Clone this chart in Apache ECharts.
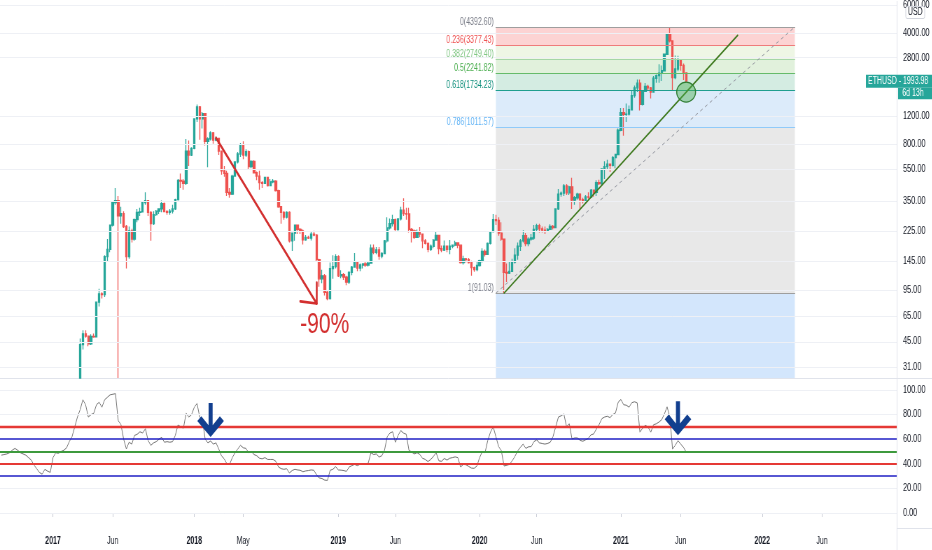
<!DOCTYPE html>
<html><head><meta charset="utf-8">
<script src="https://cdn.jsdelivr.net/npm/echarts@6/dist/echarts.min.js"></script>
<style>
html,body{margin:0;padding:0;width:932px;height:550px;overflow:hidden;background:#fff;}
#wrap{width:932px;height:550px;overflow:hidden;position:relative;}
#c{width:1331px;height:550px;transform:scaleX(0.7);transform-origin:0 0;position:absolute;left:0;top:0;}
</style></head><body><div id="wrap"><div id="c"></div></div>
<script>
// ---- weekly ETHUSD candles [open, high, low, close], first week = 2016-08-22 ----
const eth2016 = [[11.0,11.4,10.6,11.2],[11.2,12.2,11.0,11.9],[11.9,12.4,11.5,12.0],[12.0,12.8,11.8,12.7],[12.7,13.4,12.4,13.0],[13.0,13.3,12.8,13.2],[13.2,13.2,11.8,12.0],[12.0,12.2,11.7,11.9],[11.9,12.1,11.6,11.8],[11.8,11.9,10.9,11.1],[11.1,11.3,10.4,10.8],[10.8,11.0,10.2,10.3],[10.3,10.5,9.5,9.8],[9.8,10.0,8.9,9.0],[9.0,9.1,7.6,8.4],[8.4,8.7,7.6,7.9],[7.9,8.3,7.5,7.7],[7.7,7.9,7.0,7.2],[7.2,8.5,7.0,8.2]];
const eth2017 = [[8.2,11.2,8.0,10.2],[10.2,10.6,9.4,9.8],[9.8,10.9,9.7,10.6],[10.6,10.8,10.3,10.5],[10.5,11.5,10.4,11.3],[11.3,11.6,10.6,11.4],[11.4,13.0,11.3,12.8],[12.8,14.0,12.4,13.6],[13.6,19.5,13.4,19.2],[19.2,24.0,17.8,23.0],[23.0,47.0,22.5,43.0],[43.0,53.0,40.0,50.3],[50.3,53.0,47.5,48.6],[48.6,48.6,42.0,43.5],[43.5,50.0,42.8,48.5],[48.5,50.5,47.5,48.2],[48.2,80.0,48.0,79.8],[79.8,97.0,75.0,90.0],[90.0,92.0,84.0,89.0],[89.0,158.0,86.0,155.0],[155.0,200.0,145.0,172.0],[172.0,247.0,165.0,245.0],[245.0,342.0,240.0,340.0],[340.0,420.0,330.0,350.0],[350.0,375.0,0.1,280.0],[280.0,320.0,250.0,290.0],[290.0,300.0,235.0,240.0],[240.0,245.0,130.0,155.0],[155.0,240.0,150.0,225.0],[225.0,232.0,190.0,200.0],[200.0,270.0,195.0,265.0],[265.0,310.0,255.0,295.0],[295.0,315.0,280.0,297.0],[297.0,345.0,295.0,340.0],[340.0,395.0,330.0,350.0],[350.0,352.0,280.0,295.0],[295.0,300.0,195.0,250.0],[250.0,300.0,245.0,285.0],[285.0,305.0,280.0,300.0],[300.0,312.0,288.0,310.0],[310.0,350.0,295.0,335.0],[335.0,340.0,295.0,298.0],[298.0,305.0,285.0,295.0],[295.0,310.0,285.0,300.0],[300.0,330.0,290.0,310.0],[310.0,360.0,305.0,355.0],[355.0,480.0,350.0,470.0],[470.0,520.0,420.0,465.0],[465.0,480.0,410.0,450.0],[450.0,860.0,440.0,720.0],[720.0,840.0,580.0,680.0],[680.0,760.0,670.0,750.0]];
const eth2018 = [[750,1160,740,1150],[1150,1420,1100,1370],[1370,1390,850,1150],[1150,1270,1000,1240],[1240,1250,780,830],[830,880,570,860],[860,960,840,940],[940,950,800,845],[845,895,830,865],[865,870,680,720],[720,725,510,540],[540,580,495,520],[520,540,375,395],[395,420,365,385],[385,510,380,500],[500,620,495,615],[615,710,600,690],[690,810,660,790],[790,830,640,680],[680,740,660,715],[715,725,550,575],[575,630,560,620],[620,630,520,525],[525,535,470,500],[500,540,410,455],[455,465,420,450],[450,495,445,490],[490,495,430,435],[435,480,435,460],[460,480,450,465],[465,470,400,405],[405,410,315,320],[320,320,250,295],[295,300,265,275],[275,300,270,295],[295,300,190,195],[195,220,168,218],[218,245,195,245],[245,245,215,230],[230,235,215,225],[225,230,185,198],[198,212,195,205],[205,210,200,203],[203,222,196,215],[215,226,208,212],[212,215,145,148],[148,150,100,112],[112,128,105,117],[117,120,88,92],[92,94,82,84],[84,142,83,130],[130,158,112,134],[134,160,130,155]];
const eth2019 = [[155,158,115,117],[117,127,113,119],[119,122,110,115],[115,117,102,107],[107,125,104,123],[123,135,118,133],[133,163,132,143],[143,145,125,131],[131,140,125,137],[137,140,130,139],[139,145,133,137],[137,145,134,141],[141,185,140,175],[175,185,160,165],[165,178,160,171],[171,178,148,156],[156,165,151,162],[162,197,160,195],[195,275,190,235],[235,270,230,250],[250,285,240,265],[265,270,225,230],[230,270,225,268],[268,320,262,305],[305,362,280,290],[290,315,265,288],[288,315,220,230],[230,235,190,225],[225,230,200,205],[205,230,205,222],[222,238,205,215],[215,216,175,195],[195,200,185,188],[188,190,165,172],[172,185,168,180],[180,200,175,197],[197,224,195,211],[211,212,160,174],[174,182,165,170],[170,196,168,180],[180,182,165,172],[172,197,160,180],[180,185,175,183],[183,195,180,189],[189,190,175,183],[183,185,140,142],[142,157,138,150],[150,152,142,148],[148,152,140,142],[142,146,117,132],[132,134,124,128],[128,145,125,136]];
const eth2020 = [[136,148,134,146],[146,175,142,167],[167,172,155,160],[160,190,159,188],[188,225,185,223],[223,288,220,265],[265,285,245,262],[262,275,210,218],[218,255,195,200],[200,201,91.03,123],[123,140,107,122],[122,145,120,125],[125,150,124,143],[143,175,140,158],[158,190,148,180],[180,200,168,195],[195,227,190,210],[210,218,180,187],[187,205,180,200],[200,215,195,203],[203,245,198,230],[230,250,225,243],[243,250,220,232],[232,240,220,228],[228,240,215,225],[225,235,222,230],[230,248,228,240],[240,245,230,236],[236,310,235,310],[310,415,305,385],[385,400,370,390],[390,445,375,433],[433,445,380,392],[392,435,380,428],[428,488,310,353],[353,375,330,365],[365,393,355,385],[385,390,310,355],[355,365,335,346],[346,380,335,370],[370,395,360,368],[368,415,365,408],[408,410,370,395],[395,470,375,455],[455,475,440,448],[448,560,440,555],[555,620,480,575],[575,635,550,595],[595,600,530,585],[585,670,575,655],[655,690,560,685],[685,1000,680,975]];
const eth2021 = [[975,1350,960,1260],[1260,1350,900,1230],[1230,1440,1100,1235],[1235,1400,1210,1315],[1315,1750,1315,1615],[1615,1870,1565,1810],[1810,2040,1700,1935],[1935,2040,1300,1420],[1420,1730,1400,1720],[1720,1940,1700,1850],[1850,1890,1730,1810],[1810,1830,1550,1700],[1700,2150,1690,2080],[2080,2200,1950,2160],[2160,2550,1950,2240],[2240,2500,2000,2320],[2320,2950,2300,2950],[2950,3970,2930,3920],[3920,4392.6,3500,3580],[3580,3600,1734,2100],[2100,2900,2050,2380],[2380,2890,2300,2710],[2710,2750,2320,2510],[2510,2580,2030,2250],[2250,2260,1940,1993.98]];

// ---- weekly RSI values ----
const rsi2016 = [47,47.5,48,49,51,52.5,51,49,48,47,45,43,39,36,33,31.5,35.5,34,33];
const rsi2017 = [45,49,48.5,50,51,53,58,62,70,78,84,92,88,78,80,81,88,90,86,92,94,96,96.5,97,75,72,60,52,57.5,56,63,64,66,65,68.5,59,55,57,58,60,61.5,57.5,58,57.5,58,63,71.5,70,69,81,78,80];
const rsi2018 = [86,89,78,76,60,57,58.5,56,57,52,46.5,44,40,39.6,45,49,52,55,53,52.5,49,50,47.5,46.5,44.5,44,45,43.5,43.5,43.5,42,37.4,36,35.5,36,32.5,34.5,35.5,35,34.7,33.5,34.2,34.5,35,34.7,31,28.5,28,26.7,26.5,34.7,35.5,37.7];
const rsi2019 = [35,34.8,34.5,33.8,37.4,38.5,39.5,38.5,39.6,39.8,39.6,40.5,49,47.5,48,45.5,46.5,51,62,65,66,57.5,63,67,64.9,64,51,49.5,48,49,47.5,44.5,43.5,41.8,43.5,46,49,42.4,42,44.3,43,44.5,45,45.6,45,37.4,39.5,39.2,37.8,36.5,36.3,38.2];
const rsi2020 = [45,50,49,59,65.7,70,62,54,50.6,38.2,38.8,39.5,42.4,46,50.5,53.3,56,52.5,53.8,54,58,59.4,57,56.5,56,56.5,57.5,62,70,78,79,80.5,70,72.5,60.2,61,61,59,58.3,59.5,60.7,63.5,64.3,68.4,72,76.7,78,78.6,77.5,80,81.3,90];
const rsi2021 = [92.3,88,87.6,86,89.6,90.4,89.5,65.7,69,71.2,69.8,65.7,71.7,72.5,73.9,75.8,80.5,86.3,78,52,55,58.8,56,53.5,49.5];

// ---- axis ticks / labels ----
const priceTicks = [6000,4000,2800,1200,800,550,350,225,145,95,65,45,31];
const rsiTicks = [0,20,40,60,80,100];
const rsiLevels = [70,60,50,40,30];
const timeLabels = [['2017-01-02','2017',1],['2017-06-05','Jun',0],['2018-01-01','2018',1],['2018-05-07','May',0],['2019-01-07','2019',1],['2019-06-03','Jun',0],['2020-01-06','2020',1],['2020-06-01','Jun',0],['2021-01-04','2021',1],['2021-06-07','Jun',0],['2022-01-03','2022',1],['2022-06-06','Jun',0]];

// ---- fibonacci retracement ----
const fibRatios = ['0','0.236','0.382','0.5','0.618','0.786','1'];
const fibPrices = [4392.60,3377.43,2749.40,2241.82,1734.23,1011.57,91.03];
const lastPrice = 1993.98;

// ---- build ----
const FONT = '"Liberation Sans", Arial, sans-serif';
const L = v => Math.log10(v);
const Y_MIN = 1.4221, Y_MAX = 3.8039;          // log10 price range of pane
const R_MIN = -12.2, R_MAX = 108.9;

const categories = [];
{ let t = Date.UTC(2016,7,22); for (let i=0;i<330;i++){ categories.push(new Date(t).toISOString().slice(0,10)); t += 7*864e5; } }
const labelAt = {};
timeLabels.forEach(([d,txt,b]) => { labelAt[categories.indexOf(d)] = {txt, b}; });

const ohlc = [].concat(eth2016, eth2017, eth2018, eth2019, eth2020, eth2021);
// candles partly below the pane are cut at the pane's lower edge
const cut = v => Math.max(L(v), Y_MIN);
const candleData = ohlc.map(r => L(r[1]) < Y_MIN
  ? [L(r[0]), L(r[3]), L(r[2]), L(r[1])]
  : [cut(r[0]), cut(r[3]), cut(r[2]), cut(r[1])]);
const rsiData = [].concat(rsi2016, rsi2017, rsi2018, rsi2019, rsi2020, rsi2021);

const FIB_A = 182, FIB_B = 292;
const fibLine = ['#9e9e9e','#ef7b7b','#a5d6a7','#66bb6a','#1f9e8e','#90caf9','#9e9e9e'];
const fibText = ['#787b86','#ef4f4f','#81c784','#4caf50','#0f8f7c','#64b5f6','#787b86'];
const fibFill = ['#fcd3d3','#eef6e5','#e1f1dc','#d4ece2','#dcebfa','#e8e8e8','#d3e6fc'];

const bands = [];
for (let i=0;i<fibPrices.length;i++){
  const top = L(fibPrices[i]);
  const bot = i < fibPrices.length-1 ? L(fibPrices[i+1]) : Y_MIN;
  bands.push([{coord:[FIB_A, top], itemStyle:{color:fibFill[i]}}, {coord:[FIB_B, bot]}]);
}
const solid = (color, width) => ({color, width, type:'solid', cap:'round'});
const fibLines = fibPrices.map((p,i) => [{coord:[FIB_A, L(p)], lineStyle:solid(fibLine[i], 1.2)}, {coord:[FIB_B, L(p)]}]);
const fibLabels = fibPrices.map((p,i) => ({coord:[FIB_A, L(p)], symbolSize:0,
  label:{show:true, position:'left', distance:3, offset:[0,-5], formatter: fibRatios[i]+'('+p.toFixed(2)+')', color: fibText[i], fontSize:10, fontFamily:FONT}}));

const arrowTip = [116, L(78.3)];
const overlayLines = [
  [{coord:[FIB_A, L(fibPrices[6])], lineStyle:{color:'#9598a1', width:1, type:[4,4]}}, {coord:[FIB_B, L(fibPrices[0])]}],
  [{coord:[185, L(91.03)], lineStyle:solid('#3f7a1f', 1.6)}, {coord:[271, L(3890)]}],
  [{coord:[79, L(872)], lineStyle:solid('#d32f2f', 2.6)}, {coord:arrowTip}],
  [{coord:arrowTip, lineStyle:solid('#d32f2f', 2.6)}, {coord:[110, L(80.7)]}],
  [{coord:arrowTip, lineStyle:solid('#d32f2f', 2.6)}, {coord:[116, L(106)]}]
];

const downArrow = 'path://M43,0 L57,0 L57,64 L82,38 L96,52 L50,98 L4,52 L18,38 L43,64 Z';

const chart = echarts.init(document.getElementById('c'));
const axisGray = '#e0e3eb';
const gridLine = {color:'#eef0f5', width:1, type:'solid'};
const option = {
  animation:false,
  backgroundColor:'#ffffff',
  textStyle:{fontFamily:FONT},
  grid:[{left:0, right:50, top:0, height:378}, {left:0, right:50, top:379, height:149}],
  xAxis:[
    {type:'category', gridIndex:0, data:categories, boundaryGap:true,
     axisLine:{show:true, lineStyle:{color:axisGray}}, axisTick:{show:false}, axisLabel:{show:false}, splitLine:{show:false}},
    {type:'category', gridIndex:1, data:categories, boundaryGap:true,
     axisLine:{show:true, lineStyle:{color:axisGray}},
     axisTick:{show:true, alignWithLabel:true, length:4, lineStyle:{color:'#c9ccd6'}, interval:(i)=> labelAt[i]!==undefined},
     axisLabel:{show:true, margin:8, fontSize:10, color:'#131722', fontFamily:FONT,
       interval:(i)=> labelAt[i]!==undefined,
       formatter:(v,i)=>{ const t = labelAt[i]; if(!t) return ''; return t.b ? '{b|'+t.txt+'}' : t.txt; },
       rich:{b:{fontWeight:'bold', fontSize:10, color:'#131722', fontFamily:FONT}}},
     splitLine:{show:false}}
  ],
  yAxis:[
    {type:'value', gridIndex:0, position:'right', min:Y_MIN, max:Y_MAX,
     axisLine:{show:true, lineStyle:{color:axisGray}}, axisTick:{show:false}, splitLine:{show:false},
     axisLabel:{show:true, margin:9, fontSize:10.5, color:'#131722', fontFamily:FONT, customValues: priceTicks.map(L),
       formatter:(v)=>{ const t = priceTicks.find(p=>Math.abs(L(p)-v)<1e-6); return t!==undefined ? t.toFixed(2) : ''; }}},
    {type:'value', gridIndex:1, position:'right', min:R_MIN, max:R_MAX,
     axisLine:{show:true, lineStyle:{color:axisGray}}, axisTick:{show:false}, splitLine:{show:false},
     axisLabel:{show:true, margin:9, fontSize:10.5, color:'#131722', fontFamily:FONT, customValues: rsiTicks,
       formatter:(v)=> Number(v).toFixed(2)}}
  ],
  series:[
    {name:'bg', type:'line', xAxisIndex:0, yAxisIndex:0, data:[], silent:true, z:0,
     markLine:{silent:true, symbol:['none','none'], label:{show:false}, animation:false,
       lineStyle:gridLine, data: priceTicks.map(p=>({yAxis:L(p), lineStyle:gridLine}))},
     markArea:{silent:true, animation:false, data: bands}},
    {name:'ETHUSD', type:'candlestick', xAxisIndex:0, yAxisIndex:0, data:candleData, clip:true, barWidth:2.8,
     itemStyle:{color:'#26a69a', color0:'#ef5350', borderColor:'#26a69a', borderColor0:'#ef5350', borderWidth:1.3}},
    {name:'draw', type:'line', xAxisIndex:0, yAxisIndex:0, data:[], silent:true,
     markLine:{silent:true, symbol:['none','none'], label:{show:false}, animation:false,
       lineStyle:{type:'solid'}, data: fibLines.concat(overlayLines)},
     markPoint:{silent:true, animation:false, data: fibLabels.concat([
       {coord:[252, L(1700)], symbol:'circle', symbolSize:[27,20],
        itemStyle:{color:'rgba(76,175,80,0.45)', borderColor:'#2e7d32', borderWidth:1.3}, label:{show:false}},
       {coord:[119, L(57.8)], symbolSize:0, label:{show:true, position:'inside', formatter:'-90%', fontSize:30, color:'#d32f2f', fontFamily:FONT}}
     ])}},
    {name:'RSI', type:'line', xAxisIndex:1, yAxisIndex:1, data:rsiData, symbol:'none', silent:true,
     lineStyle:{color:'#757575', width:1},
     markLine:{silent:true, symbol:['none','none'], label:{show:false}, animation:false,
       lineStyle:{type:'solid'},
       data:[
         {yAxis:100, lineStyle:gridLine},
         {yAxis:80, lineStyle:gridLine},
         {yAxis:20, lineStyle:gridLine},
         {yAxis:0, lineStyle:gridLine},
         {yAxis:rsiLevels[0], lineStyle:{color:'#e53935', width:2.4, type:'solid'}},
         {yAxis:rsiLevels[1], lineStyle:{color:'#1f1fc4', width:1.5, type:'solid'}},
         {yAxis:rsiLevels[2], lineStyle:{color:'#3d9a3d', width:1.8, type:'solid'}},
         {yAxis:rsiLevels[3], lineStyle:{color:'#e53935', width:1.8, type:'solid'}},
         {yAxis:rsiLevels[4], lineStyle:{color:'#1f1fc4', width:1.5, type:'solid'}}
       ]},
     markPoint:{silent:true, animation:false, symbol:downArrow, symbolSize:[38,34], itemStyle:{color:'#123f8f'}, label:{show:false},
       data:[{coord:[77, 75.6]}, {coord:[249, 77]}]}}
  ]
};
chart.setOption(option);

const ty = chart.convertToPixel({yAxisIndex:0}, L(lastPrice));
const axX = 1281.4;
chart.setOption({graphic:[
  {type:'line', z:50, shape:{x1:axX, y1:528, x2:axX, y2:550}, style:{stroke:axisGray, lineWidth:1}},
  {type:'line', z:50, shape:{x1:axX, y1:378.5, x2:1331, y2:378.5}, style:{stroke:axisGray, lineWidth:1}},
  {type:'line', z:50, shape:{x1:axX, y1:528.5, x2:1331, y2:528.5}, style:{stroke:axisGray, lineWidth:1}},
  {type:'rect', z:60, shape:{x:1294, y:6.5, width:27, height:12, r:2}, style:{fill:'#ffffff', stroke:'#d1d4dc', lineWidth:1}},
  {type:'text', z:61, x:1307.5, y:12.5, style:{text:'USD', fill:'#131722', fontSize:10, fontFamily:FONT, align:'center', verticalAlign:'middle'}},
  {type:'rect', z:60, shape:{x:1237, y:ty-6.5, width:94, height:13}, style:{fill:'#26a69a'}},
  {type:'text', z:61, x:1240, y:ty, style:{text:'ETHUSD - 1993.98', fill:'#ffffff', fontSize:10, fontFamily:FONT, align:'left', verticalAlign:'middle'}},
  {type:'rect', z:60, shape:{x:1283, y:ty+6.5, width:48, height:11.5}, style:{fill:'#26a69a'}},
  {type:'text', z:61, x:1289, y:ty+12.2, style:{text:'6d 13h', fill:'#ffffff', fontSize:10, fontFamily:FONT, align:'left', verticalAlign:'middle'}}
]});
</script></body></html>
